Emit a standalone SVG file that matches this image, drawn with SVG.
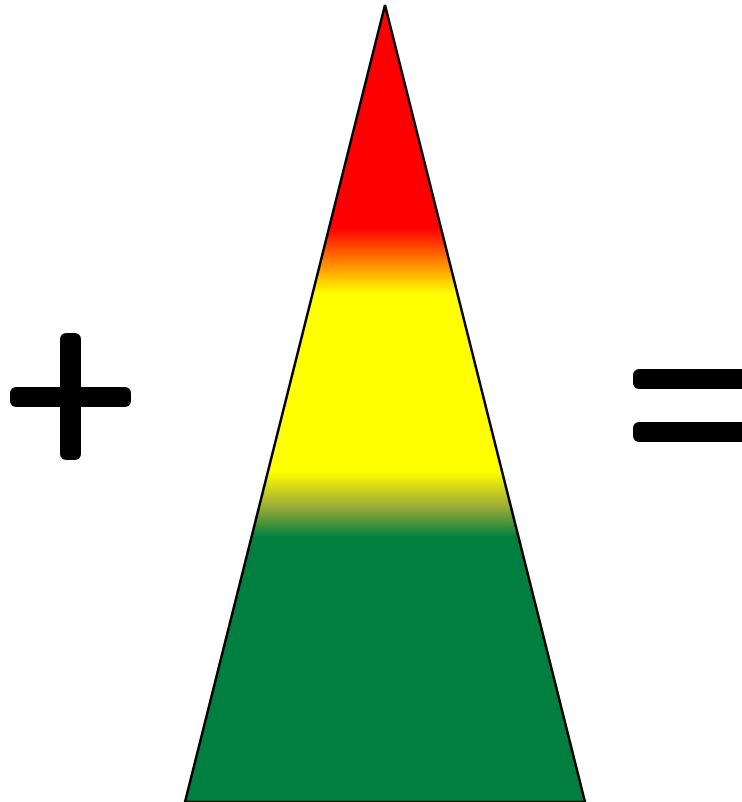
<svg xmlns="http://www.w3.org/2000/svg" width="742" height="802" viewBox="0 0 742 802">
  <defs>
    <linearGradient id="heat" gradientUnits="userSpaceOnUse" x1="0" y1="5" x2="0" y2="802">
      <stop offset="0" stop-color="#FF0000"/>
      <stop offset="0.28" stop-color="#FF0000"/>
      <stop offset="0.362" stop-color="#FFFF00"/>
      <stop offset="0.585" stop-color="#FFFF00"/>
      <stop offset="0.628" stop-color="#A0AE38"/>
      <stop offset="0.668" stop-color="#007F3F"/>
      <stop offset="1" stop-color="#007F3F"/>
    </linearGradient>
    <style>
      .sym { fill: #000000; }
    </style>
  </defs>
  <rect width="742" height="802" fill="#FFFFFF"/>
  <g id="plus">
    <rect class="sym" x="60" y="333" width="21" height="127" rx="6"/>
    <rect class="sym" x="10" y="387" width="121" height="20" rx="6"/>
  </g>
  <g id="triangle">
    <polygon points="385,5 585,802 185,802" fill="url(#heat)" stroke="#000000" stroke-width="2.5" stroke-linejoin="miter"/>
  </g>
  <g id="equals">
    <rect class="sym" x="633" y="369" width="130" height="20" rx="6"/>
    <rect class="sym" x="633" y="422" width="130" height="20" rx="6"/>
  </g>
  <g id="connectors"/>
</svg>
